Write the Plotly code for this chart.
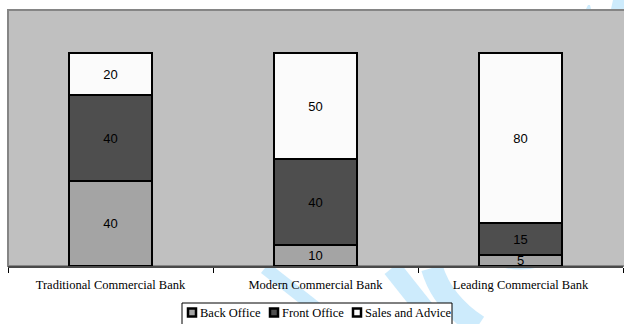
import plotly.graph_objects as go

# Staffing mix per bank type (percent of staff)
categories = ["Traditional Commercial Bank", "Modern Commercial Bank", "Leading Commercial Bank"]
back_office = [40, 10, 5]
front_office = [40, 40, 15]
sales_advice = [20, 50, 80]

series_names = ["Back Office", "Front Office", "Sales and Advice"]
series_values = [back_office, front_office, sales_advice]
series_colors = ["#A4A4A4", "#4E4E4E", "#FBFBFB"]

W, H = 624, 324
M_L, M_R, M_T, M_B = 8, 1, 10, 58
PW, PH = W - M_L - M_R, H - M_T - M_B
SERIF = "Liberation Serif, Times New Roman, serif"


def px(x):
    return (x - M_L) / PW


def py(y):
    return (H - M_B - y) / PH


fig = go.Figure()
for name, vals, color in zip(series_names, series_values, series_colors):
    fig.add_trace(go.Bar(
        x=categories, y=vals, name=name,
        marker=dict(color=color, line=dict(color="black", width=2)),
        text=vals, texttemplate="%{text}",
        textposition="inside", insidetextanchor="middle",
        textangle=0, constraintext="none",
        textfont=dict(family="Liberation Sans, Arial", size=13, color="black"),
        hoverinfo="skip",
    ))

# faint blue background logo strokes in the white margins
wm = "#CDEBFC"
strokes = [
    (f"M {px(265)} {py(268)} L {px(339)} {py(326)}", 13),
    (f"M {px(392)} {py(268)} L {px(438)} {py(326)}", 19),
    (f"M {px(432)} {py(268)} Q {px(442)} {py(302)} {px(478)} {py(326)}", 22),
]
shapes = [dict(type="path", path=p, xref="paper", yref="paper",
               line=dict(color=wm, width=w), layer="below") for p, w in strokes]
blobs = [
    f"M {px(613)} {py(0)} L {px(624)} {py(0)} L {px(624)} {py(9)} L {px(611)} {py(9)} Z",
    f"M {px(588)} {py(5)} L {px(590)} {py(5)} L {px(591)} {py(9)} L {px(586)} {py(9)} Z",
    f"M {px(500)} {py(267)} Q {px(520)} {py(272)} {px(540)} {py(267)} Z",
]
shapes += [dict(type="path", path=p, xref="paper", yref="paper",
                fillcolor=wm, line=dict(width=0), layer="below") for p in blobs]

# grey plot area with darker frame
shapes.append(dict(type="rect", xref="paper", yref="paper", x0=0, x1=1.01, y0=0, y1=1,
                   fillcolor="#C0C0C0", line=dict(color="#858585", width=2), layer="below"))

# legend box below the axis: framed swatches followed by their labels
shapes.append(dict(type="rect", xref="paper", yref="paper",
                   x0=px(182), x1=px(452), y0=py(327), y1=py(303),
                   fillcolor="white", line=dict(color="black", width=1), layer="above"))
annotations = []
swatch_x = [187, 269, 352]
for sx, name, color in zip(swatch_x, series_names, series_colors):
    shapes.append(dict(type="rect", xref="paper", yref="paper",
                       x0=px(sx + 1), x1=px(sx + 9), y0=py(316.5), y1=py(308.5),
                       fillcolor=color, line=dict(color="black", width=2.5), layer="above"))
    annotations.append(dict(text=name, xref="paper", yref="paper",
                            x=px(sx + 11), y=py(313), xanchor="left", yanchor="middle",
                            showarrow=False, font=dict(family=SERIF, size=12.5, color="black")))

fig.update_layout(
    width=W, height=H,
    margin=dict(l=M_L, r=M_R, t=M_T, b=M_B, autoexpand=False),
    barmode="stack", bargap=0.595,
    paper_bgcolor="white", plot_bgcolor="rgba(0,0,0,0)",
    shapes=shapes, annotations=annotations,
    showlegend=False,
    xaxis=dict(showline=True, linecolor="#4A4A4A", linewidth=2, automargin=False,
               ticks="outside", tickson="boundaries", ticklen=5, tickcolor="black", tickwidth=1,
               ticklabelstandoff=6,
               tickfont=dict(family=SERIF, size=12.5, color="black"),
               showgrid=False, zeroline=False, fixedrange=True),
    yaxis=dict(range=[0, 120], showticklabels=False, showgrid=False, zeroline=False,
               showline=False, ticks="", fixedrange=True, automargin=False),
)

fig.write_html("out.html")
